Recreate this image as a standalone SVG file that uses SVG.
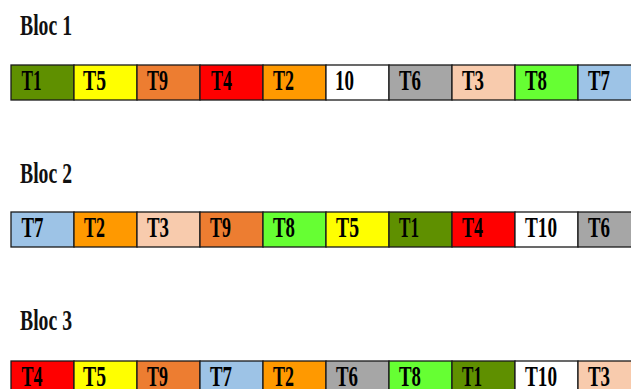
<svg xmlns="http://www.w3.org/2000/svg" width="631" height="389" viewBox="0 0 631 389">
<style>
.c{stroke:#1a1a1a;stroke-width:1.3}
.t{font-family:"Liberation Serif",serif;font-weight:bold;font-size:29px;fill:#000}
.h{font-family:"Liberation Serif",serif;font-weight:bold;font-size:29px;fill:#111}
.g1{fill:#5f9000}.y{fill:#ffff00}.o9{fill:#ed7d31}.r{fill:#ff0000}.o2{fill:#ff9900}.w{fill:#ffffff}.gr{fill:#a6a6a6}.p{fill:#f8cbad}.lg{fill:#66ff33}.b{fill:#9dc3e6}
</style>
<rect width="631" height="389" fill="#fff"/>
<g id="bloc1">
<text class="h" x="20" y="35" textLength="52" lengthAdjust="spacingAndGlyphs">Bloc 1</text>
<g id="b1-T1"><rect class="c g1" x="11" y="65" width="63" height="35"/><text class="t" x="21.5" y="90" textLength="20" lengthAdjust="spacingAndGlyphs">T1</text></g>
<g id="b1-T5"><rect class="c y" x="74" y="65" width="63" height="35"/><text class="t" x="83" y="90" textLength="23" lengthAdjust="spacingAndGlyphs">T5</text></g>
<g id="b1-T9"><rect class="c o9" x="137" y="65" width="63" height="35"/><text class="t" x="147" y="90" textLength="21" lengthAdjust="spacingAndGlyphs">T9</text></g>
<g id="b1-T4"><rect class="c r" x="200" y="65" width="63" height="35"/><text class="t" x="211" y="90" textLength="21" lengthAdjust="spacingAndGlyphs">T4</text></g>
<g id="b1-T2"><rect class="c o2" x="263" y="65" width="63" height="35"/><text class="t" x="273" y="90" textLength="21" lengthAdjust="spacingAndGlyphs">T2</text></g>
<g id="b1-10"><rect class="c w" x="326" y="65" width="63" height="35"/><text class="t" x="335" y="90" textLength="19" lengthAdjust="spacingAndGlyphs">10</text></g>
<g id="b1-T6"><rect class="c gr" x="389" y="65" width="63" height="35"/><text class="t" x="399" y="90" textLength="22" lengthAdjust="spacingAndGlyphs">T6</text></g>
<g id="b1-T3"><rect class="c p" x="452" y="65" width="63" height="35"/><text class="t" x="462" y="90" textLength="22" lengthAdjust="spacingAndGlyphs">T3</text></g>
<g id="b1-T8"><rect class="c lg" x="515" y="65" width="63" height="35"/><text class="t" x="525" y="90" textLength="22" lengthAdjust="spacingAndGlyphs">T8</text></g>
<g id="b1-T7"><rect class="c b" x="578" y="65" width="63" height="35"/><text class="t" x="588" y="90" textLength="22" lengthAdjust="spacingAndGlyphs">T7</text></g>
</g>
<g id="bloc2">
<text class="h" x="20" y="183" textLength="52" lengthAdjust="spacingAndGlyphs">Bloc 2</text>
<g id="b2-T7"><rect class="c b" x="11" y="212" width="63" height="35"/><text class="t" x="21.5" y="237" textLength="22" lengthAdjust="spacingAndGlyphs">T7</text></g>
<g id="b2-T2"><rect class="c o2" x="74" y="212" width="63" height="35"/><text class="t" x="84" y="237" textLength="21" lengthAdjust="spacingAndGlyphs">T2</text></g>
<g id="b2-T3"><rect class="c p" x="137" y="212" width="63" height="35"/><text class="t" x="147" y="237" textLength="22" lengthAdjust="spacingAndGlyphs">T3</text></g>
<g id="b2-T9"><rect class="c o9" x="200" y="212" width="63" height="35"/><text class="t" x="210" y="237" textLength="21" lengthAdjust="spacingAndGlyphs">T9</text></g>
<g id="b2-T8"><rect class="c lg" x="263" y="212" width="63" height="35"/><text class="t" x="273" y="237" textLength="22" lengthAdjust="spacingAndGlyphs">T8</text></g>
<g id="b2-T5"><rect class="c y" x="326" y="212" width="63" height="35"/><text class="t" x="336" y="237" textLength="23" lengthAdjust="spacingAndGlyphs">T5</text></g>
<g id="b2-T1"><rect class="c g1" x="389" y="212" width="63" height="35"/><text class="t" x="399" y="237" textLength="20" lengthAdjust="spacingAndGlyphs">T1</text></g>
<g id="b2-T4"><rect class="c r" x="452" y="212" width="63" height="35"/><text class="t" x="462" y="237" textLength="21" lengthAdjust="spacingAndGlyphs">T4</text></g>
<g id="b2-T10"><rect class="c w" x="515" y="212" width="63" height="35"/><text class="t" x="525" y="237" textLength="32" lengthAdjust="spacingAndGlyphs">T10</text></g>
<g id="b2-T6"><rect class="c gr" x="578" y="212" width="63" height="35"/><text class="t" x="588" y="237" textLength="22" lengthAdjust="spacingAndGlyphs">T6</text></g>
</g>
<g id="bloc3">
<text class="h" x="20" y="330" textLength="52" lengthAdjust="spacingAndGlyphs">Bloc 3</text>
<g id="b3-T4"><rect class="c r" x="11" y="361" width="63" height="35"/><text class="t" x="21.5" y="386" textLength="21" lengthAdjust="spacingAndGlyphs">T4</text></g>
<g id="b3-T5"><rect class="c y" x="74" y="361" width="63" height="35"/><text class="t" x="83" y="386" textLength="23" lengthAdjust="spacingAndGlyphs">T5</text></g>
<g id="b3-T9"><rect class="c o9" x="137" y="361" width="63" height="35"/><text class="t" x="147" y="386" textLength="21" lengthAdjust="spacingAndGlyphs">T9</text></g>
<g id="b3-T7"><rect class="c b" x="200" y="361" width="63" height="35"/><text class="t" x="210" y="386" textLength="22" lengthAdjust="spacingAndGlyphs">T7</text></g>
<g id="b3-T2"><rect class="c o2" x="263" y="361" width="63" height="35"/><text class="t" x="273" y="386" textLength="21" lengthAdjust="spacingAndGlyphs">T2</text></g>
<g id="b3-T6"><rect class="c gr" x="326" y="361" width="63" height="35"/><text class="t" x="336" y="386" textLength="22" lengthAdjust="spacingAndGlyphs">T6</text></g>
<g id="b3-T8"><rect class="c lg" x="389" y="361" width="63" height="35"/><text class="t" x="399" y="386" textLength="22" lengthAdjust="spacingAndGlyphs">T8</text></g>
<g id="b3-T1"><rect class="c g1" x="452" y="361" width="63" height="35"/><text class="t" x="462" y="386" textLength="20" lengthAdjust="spacingAndGlyphs">T1</text></g>
<g id="b3-T10"><rect class="c w" x="515" y="361" width="63" height="35"/><text class="t" x="525" y="386" textLength="32" lengthAdjust="spacingAndGlyphs">T10</text></g>
<g id="b3-T3"><rect class="c p" x="578" y="361" width="63" height="35"/><text class="t" x="588" y="386" textLength="22" lengthAdjust="spacingAndGlyphs">T3</text></g>
</g>
<g id="connectors"/>
</svg>
